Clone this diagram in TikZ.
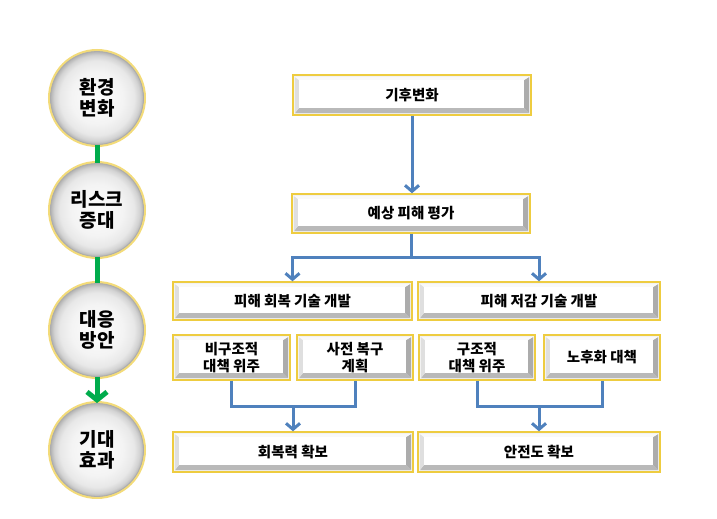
\documentclass[tikz,border=0pt]{standalone}
\usepackage{fontspec}
\setmainfont{Noto Sans CJK KR}
\usepackage{tikz}
\usetikzlibrary{arrows.meta,shadings}

\definecolor{rimyellow}{RGB}{238,204,64}
\definecolor{linkblue}{RGB}{79,129,189}
\definecolor{stepgreen}{RGB}{0,172,76}

\pgfdeclareradialshading{marble}{\pgfpoint{0bp}{0bp}}{%
  color(0bp)=(gray!2); color(14bp)=(gray!9); color(20bp)=(gray!18);
  color(23bp)=(gray!35); color(25bp)=(gray!60); color(50bp)=(gray!60)}

\tikzset{
  panel/.style={draw=rimyellow, line width=1.4pt, fill=gray!10, inner sep=0pt,
    align=center, font=\fontsize{14.5}{17}\selectfont\bfseries,
    path picture={
      \path (path picture bounding box.south west) coordinate (sw)
            (path picture bounding box.south east) coordinate (se)
            (path picture bounding box.north east) coordinate (ne)
            (path picture bounding box.north west) coordinate (nw);
      \fill[gray!55] ([shift={(2pt,2pt)}]sw) -- ([shift={(-2pt,2pt)}]se)
           -- ([shift={(-7pt,7pt)}]se) -- ([shift={(6pt,7pt)}]sw) -- cycle;
      \fill[gray!65] ([shift={(-2pt,2pt)}]se) -- ([shift={(-2pt,-2pt)}]ne)
           -- ([shift={(-7pt,-5pt)}]ne) -- ([shift={(-7pt,7pt)}]se) -- cycle;
      \fill[gray!25] ([shift={(2pt,-2pt)}]nw) -- ([shift={(2pt,2pt)}]sw)
           -- ([shift={(6pt,7pt)}]sw) -- ([shift={(6pt,-5pt)}]nw) -- cycle;
      \fill[gray!5] ([shift={(2pt,-2pt)}]nw) -- ([shift={(-2pt,-2pt)}]ne)
           -- ([shift={(-7pt,-5pt)}]ne) -- ([shift={(6pt,-5pt)}]nw) -- cycle;
      \fill[white] ([shift={(6pt,7pt)}]sw) rectangle ([shift={(-7pt,-5pt)}]ne);
    }},
  orb/.style={circle, minimum size=93pt, inner sep=0pt, align=center,
    font=\fontsize{19}{21}\selectfont\bfseries,
    shading=marble, draw=gray!65, line width=0.8pt,
    preaction={draw=rimyellow!70, line width=5pt}},
  link/.style={draw=linkblue, line width=3pt},
  flow/.style={link, -{Straight Barb[length=6pt,width=14pt]}},
  stage/.style={draw=stepgreen, line width=5pt}
}

\begin{document}
\begin{tikzpicture}[x=1pt,y=-1pt]
\useasboundingbox (0,0) rectangle (717,519);

% left column
\node[orb] (orb-1) at (97,98) {환경\\변화};
\node[orb] (orb-2) at (97,210) {리스크\\증대};
\node[orb] (orb-3) at (97,330) {대응\\방안};
\node[orb] (orb-4) at (97,450) {기대\\효과};

\draw[stage] (orb-1) -- (orb-2);
\draw[stage] (orb-2) -- (orb-3);
\draw[stage, -{Straight Barb[length=8pt,width=20pt]}] (orb-3) -- (orb-4);

% boxes
\node[panel, minimum width=238pt, minimum height=40pt] (climate) at (412,95) {기후변화};
\node[panel, minimum width=238pt, minimum height=39pt] (eval) at (411,213.5) {예상 피해 평가};
\node[panel, minimum width=239pt, minimum height=38pt] (tech-1) at (292.5,301) {피해 회복 기술 개발};
\node[panel, minimum width=242pt, minimum height=38pt] (tech-2) at (539,301) {피해 저감 기술 개발};
\node[panel, minimum width=117pt, minimum height=45pt] (plan-1) at (231.5,357.5) {비구조적\\대책 위주};
\node[panel, minimum width=116pt, minimum height=45pt] (plan-2) at (355,357.5) {사전 복구\\계획};
\node[panel, minimum width=116pt, minimum height=45pt] (plan-3) at (477,357.5) {구조적\\대책 위주};
\node[panel, minimum width=116pt, minimum height=45pt] (plan-4) at (602,357.5) {노후화 대책};
\node[panel, minimum width=240pt, minimum height=40pt] (goal-1) at (293,452) {회복력 확보};
\node[panel, minimum width=242pt, minimum height=40pt] (goal-2) at (539,452) {안전도 확보};

\coordinate (split) at (411,257);
\coordinate (join-1) at (293,406);
\coordinate (join-2) at (539,406);

\draw[flow] (climate.south) -- (climate.south |- eval.north);
\draw[link] (eval.south) -- (split);
\draw[flow] (split) -| (tech-1.north);
\draw[flow] (split) -| (tech-2.north);

\draw[link] (plan-1.south) |- (join-1) -| (plan-2.south);
\draw[link] (plan-3.south) |- (join-2) -| (plan-4.south);
\draw[flow] (join-1) -- (goal-1.north);
\draw[flow] (join-2) -- (goal-2.north);
\end{tikzpicture}
\end{document}
